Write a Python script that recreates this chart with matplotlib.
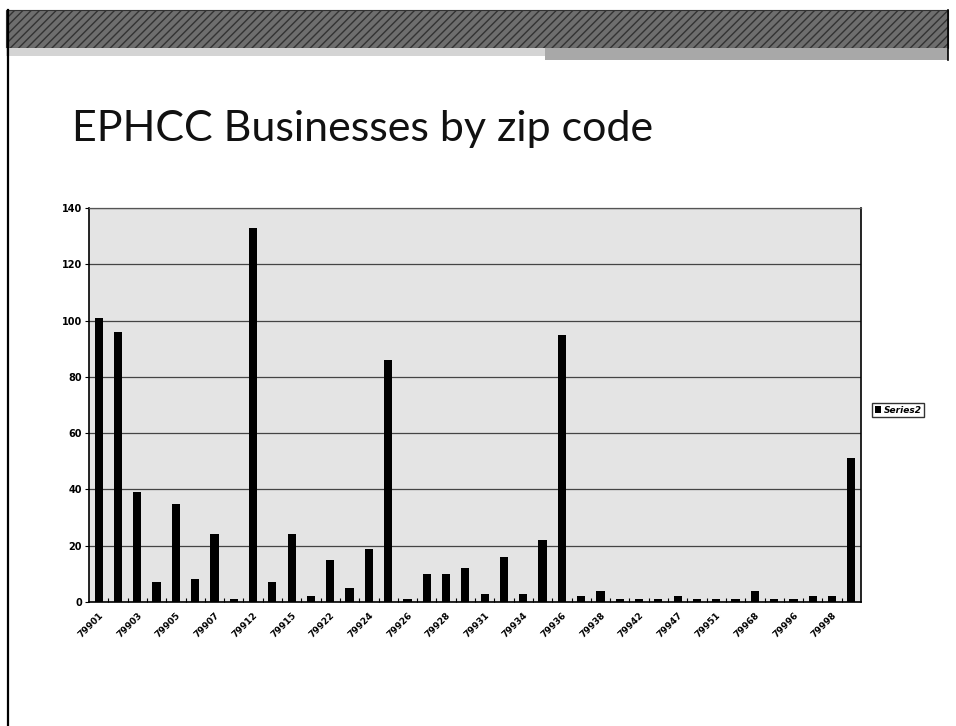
import matplotlib
matplotlib.use("Agg")
import matplotlib.pyplot as plt
from matplotlib.patches import Rectangle
from matplotlib.lines import Line2D

# zip codes (odd positions are not labelled on the original chart)
zips = ["79901", "79902", "79903", "79904", "79905", "79906", "79907", "79908",
        "79912", "79913", "79915", "79920", "79922", "79923", "79924", "79925",
        "79926", "79927", "79928", "79930", "79931", "79932", "79934", "79935",
        "79936", "79937", "79938", "79940", "79942", "79945", "79947", "79949",
        "79951", "79960", "79968", "79990", "79996", "79997", "79998", "79999"]
businesses = [101, 96, 39, 7, 35, 8, 24, 1, 133, 7,
              24, 2, 15, 5, 19, 86, 1, 10, 10, 12,
              3, 16, 3, 22, 95, 2, 4, 1, 1, 1,
              2, 1, 1, 1, 4, 1, 1, 2, 2, 51]
series_name = "Series2"
yticks = [0, 20, 40, 60, 80, 100, 120, 140]

W, H = 956, 726
fig = plt.figure(figsize=(W / 100, H / 100), dpi=100)

def px(x0, y0, x1, y1):
    # pixel box (from top-left) -> figure fraction rect
    return (x0 / W, 1 - y1 / H, (x1 - x0) / W, (y1 - y0) / H)

# slide banner and frame
x, y, w, h = px(6, 10, 948, 48)
fig.patches.append(Rectangle((x, y), w, h, transform=fig.transFigure,
                             facecolor="#6e6e6e", edgecolor="#333333",
                             hatch="////", lw=0.8))
x, y, w, h = px(6, 48, 948, 56)
fig.patches.append(Rectangle((x, y), w, h, transform=fig.transFigure,
                             facecolor="#d4d4d4", edgecolor="none", hatch="--"))
x, y, w, h = px(545, 48, 948, 60)
fig.patches.append(Rectangle((x, y), w, h, transform=fig.transFigure,
                             facecolor="#a8a8a8", edgecolor="none", hatch="---"))
fig.add_artist(Line2D([8 / W, 8 / W], [0, 1 - 10 / H], transform=fig.transFigure,
                      color="black", lw=1.6))
fig.add_artist(Line2D([948 / W, 948 / W], [1 - 60 / H, 1 - 10 / H],
                      transform=fig.transFigure, color="black", lw=1.2))

fig.text(72 / W, 1 - 141 / H, "EPHCC Businesses by zip code",
         fontsize=31, family="Lato", color="#111111", va="baseline")

# chart
ax = fig.add_axes(px(89, 208, 861, 602))
ax.set_facecolor("#e4e4e4")
ax.bar(range(len(businesses)), businesses, width=0.42, color="black",
       label=series_name, zorder=3)
ax.set_xlim(-0.5, len(businesses) - 0.5)
ax.set_ylim(0, 140)
ax.set_yticks(yticks)
ax.yaxis.grid(True, color="#444444", lw=0.9, zorder=1)
ax.tick_params(axis="y", labelsize=7, length=3, width=0.8, pad=2)
for lab in ax.get_yticklabels():
    lab.set_fontweight("bold")

ax.set_xticks(range(0, len(zips), 2))
ax.set_xticklabels(zips[::2], rotation=45, ha="right", rotation_mode="anchor",
                   fontsize=6.5, fontweight="bold")
ax.set_xticks([i + 0.5 for i in range(len(zips) - 1)], minor=True)
ax.tick_params(axis="x", which="major", length=0, pad=6)
ax.tick_params(axis="x", which="minor", length=3, direction="in", width=0.8)

for s in ["left", "bottom", "right"]:
    ax.spines[s].set_color("black")
    ax.spines[s].set_linewidth(1.2)
ax.spines["top"].set_color("#555555")
ax.spines["top"].set_linewidth(0.9)

fig.legend(loc="center left", bbox_to_anchor=(872 / W, 1 - 410 / H),
           frameon=True, fancybox=False, edgecolor="black",
           handlelength=0.7, handleheight=0.7, handletextpad=0.3,
           borderpad=0.3, borderaxespad=0,
           prop={"size": 6.5, "style": "italic", "weight": "bold"})

fig.savefig("out.png", dpi=100)
